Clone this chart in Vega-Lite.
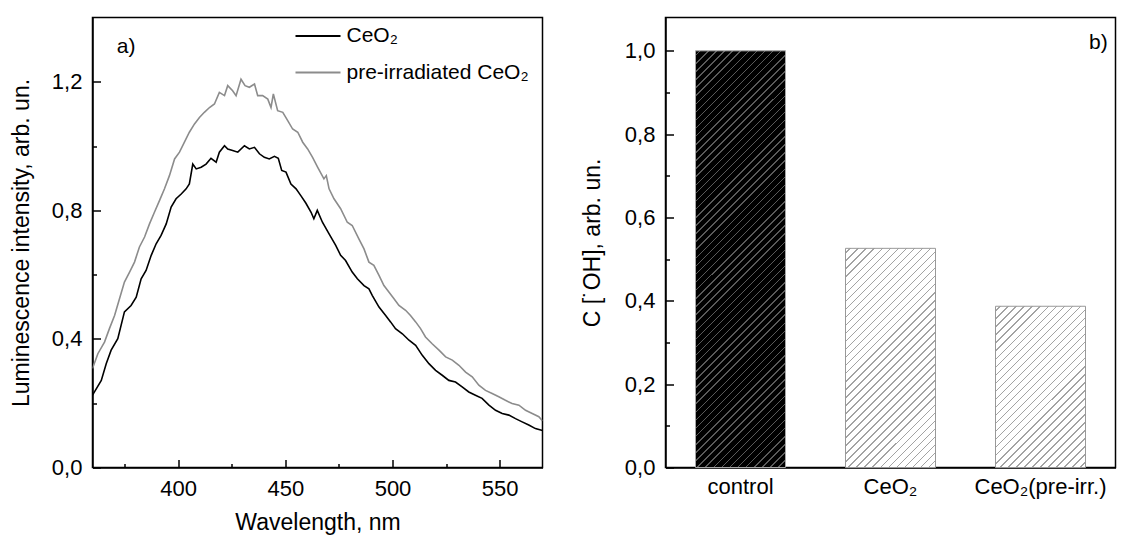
{
"$schema":"https://vega.github.io/schema/vega-lite/v6.json",
"padding":{"left":9.5,"top":16.5,"right":0,"bottom":0},
"spacing":36,
"config":{
"font":"Liberation Sans",
"view":{"stroke":"#000","strokeWidth":1.5},
"axis":{"domainColor":"#000","domainWidth":1.5,"tickColor":"#000","tickWidth":1.5,"labelColor":"#000","titleColor":"#000","labelFont":"Liberation Sans","titleFont":"Liberation Sans","labelFontSize":22,"titleFontSize":23,"titleFontWeight":"normal","grid":false},
"text":{"font":"Liberation Sans","color":"#000"}
},
"hconcat":[
{
"width":450,"height":450,
"layer":[
{
"data":{"values":[
{"s":"CeO₂","w":360.0,"i":0.225},{"s":"CeO₂","w":364.1,"i":0.271},{"s":"CeO₂","w":366.4,"i":0.323},{"s":"CeO₂","w":368.7,"i":0.365},{"s":"CeO₂","w":371.8,"i":0.401},{"s":"CeO₂","w":374.9,"i":0.484},{"s":"CeO₂","w":378.0,"i":0.504},{"s":"CeO₂","w":380.4,"i":0.530},{"s":"CeO₂","w":382.7,"i":0.587},{"s":"CeO₂","w":385.0,"i":0.613},{"s":"CeO₂","w":387.4,"i":0.660},{"s":"CeO₂","w":389.7,"i":0.696},{"s":"CeO₂","w":392.0,"i":0.722},{"s":"CeO₂","w":394.4,"i":0.758},{"s":"CeO₂","w":396.7,"i":0.810},{"s":"CeO₂","w":399.0,"i":0.836},{"s":"CeO₂","w":401.4,"i":0.851},{"s":"CeO₂","w":403.7,"i":0.867},{"s":"CeO₂","w":405.2,"i":0.882},{"s":"CeO₂","w":406.8,"i":0.944},{"s":"CeO₂","w":408.4,"i":0.929},{"s":"CeO₂","w":410.7,"i":0.934},{"s":"CeO₂","w":413.0,"i":0.944},{"s":"CeO₂","w":415.3,"i":0.962},{"s":"CeO₂","w":417.7,"i":0.950},{"s":"CeO₂","w":419.2,"i":0.981},{"s":"CeO₂","w":421.6,"i":1.001},{"s":"CeO₂","w":423.1,"i":0.991},{"s":"CeO₂","w":425.4,"i":0.986},{"s":"CeO₂","w":427.8,"i":0.981},{"s":"CeO₂","w":430.9,"i":1.001},{"s":"CeO₂","w":433.2,"i":0.991},{"s":"CeO₂","w":435.6,"i":0.996},{"s":"CeO₂","w":437.9,"i":0.976},{"s":"CeO₂","w":440.2,"i":0.965},{"s":"CeO₂","w":442.5,"i":0.960},{"s":"CeO₂","w":444.9,"i":0.968},{"s":"CeO₂","w":446.7,"i":0.962},{"s":"CeO₂","w":448.3,"i":0.924},{"s":"CeO₂","w":450.3,"i":0.919},{"s":"CeO₂","w":452.6,"i":0.882},{"s":"CeO₂","w":455.0,"i":0.867},{"s":"CeO₂","w":457.3,"i":0.845},{"s":"CeO₂","w":459.6,"i":0.822},{"s":"CeO₂","w":462.0,"i":0.794},{"s":"CeO₂","w":463.3,"i":0.774},{"s":"CeO₂","w":464.9,"i":0.800},{"s":"CeO₂","w":467.3,"i":0.763},{"s":"CeO₂","w":470.4,"i":0.727},{"s":"CeO₂","w":473.5,"i":0.691},{"s":"CeO₂","w":475.8,"i":0.660},{"s":"CeO₂","w":478.1,"i":0.644},{"s":"CeO₂","w":481.2,"i":0.608},{"s":"CeO₂","w":483.6,"i":0.587},{"s":"CeO₂","w":486.7,"i":0.566},{"s":"CeO₂","w":489.0,"i":0.556},{"s":"CeO₂","w":490.6,"i":0.535},{"s":"CeO₂","w":493.7,"i":0.499},{"s":"CeO₂","w":496.8,"i":0.473},{"s":"CeO₂","w":499.1,"i":0.453},{"s":"CeO₂","w":501.4,"i":0.432},{"s":"CeO₂","w":504.6,"i":0.416},{"s":"CeO₂","w":507.7,"i":0.396},{"s":"CeO₂","w":510.8,"i":0.380},{"s":"CeO₂","w":513.9,"i":0.349},{"s":"CeO₂","w":517.0,"i":0.323},{"s":"CeO₂","w":520.1,"i":0.302},{"s":"CeO₂","w":523.2,"i":0.287},{"s":"CeO₂","w":526.3,"i":0.271},{"s":"CeO₂","w":529.4,"i":0.266},{"s":"CeO₂","w":532.5,"i":0.251},{"s":"CeO₂","w":535.6,"i":0.235},{"s":"CeO₂","w":538.7,"i":0.225},{"s":"CeO₂","w":541.8,"i":0.215},{"s":"CeO₂","w":545.0,"i":0.194},{"s":"CeO₂","w":548.1,"i":0.178},{"s":"CeO₂","w":551.2,"i":0.168},{"s":"CeO₂","w":554.3,"i":0.163},{"s":"CeO₂","w":557.4,"i":0.152},{"s":"CeO₂","w":560.5,"i":0.142},{"s":"CeO₂","w":563.6,"i":0.132},{"s":"CeO₂","w":566.7,"i":0.121},{"s":"CeO₂","w":570.0,"i":0.115},
{"s":"pre-irradiated CeO₂","w":360.0,"i":0.308},{"s":"pre-irradiated CeO₂","w":362.5,"i":0.354},{"s":"pre-irradiated CeO₂","w":365.6,"i":0.390},{"s":"pre-irradiated CeO₂","w":367.9,"i":0.432},{"s":"pre-irradiated CeO₂","w":370.3,"i":0.473},{"s":"pre-irradiated CeO₂","w":372.6,"i":0.525},{"s":"pre-irradiated CeO₂","w":374.9,"i":0.577},{"s":"pre-irradiated CeO₂","w":377.3,"i":0.608},{"s":"pre-irradiated CeO₂","w":379.6,"i":0.639},{"s":"pre-irradiated CeO₂","w":381.9,"i":0.686},{"s":"pre-irradiated CeO₂","w":384.3,"i":0.717},{"s":"pre-irradiated CeO₂","w":386.6,"i":0.758},{"s":"pre-irradiated CeO₂","w":388.9,"i":0.794},{"s":"pre-irradiated CeO₂","w":391.3,"i":0.831},{"s":"pre-irradiated CeO₂","w":393.6,"i":0.867},{"s":"pre-irradiated CeO₂","w":395.9,"i":0.908},{"s":"pre-irradiated CeO₂","w":398.3,"i":0.960},{"s":"pre-irradiated CeO₂","w":400.6,"i":0.981},{"s":"pre-irradiated CeO₂","w":402.9,"i":1.012},{"s":"pre-irradiated CeO₂","w":405.2,"i":1.043},{"s":"pre-irradiated CeO₂","w":407.6,"i":1.069},{"s":"pre-irradiated CeO₂","w":409.9,"i":1.089},{"s":"pre-irradiated CeO₂","w":412.2,"i":1.105},{"s":"pre-irradiated CeO₂","w":414.6,"i":1.120},{"s":"pre-irradiated CeO₂","w":416.9,"i":1.131},{"s":"pre-irradiated CeO₂","w":419.2,"i":1.167},{"s":"pre-irradiated CeO₂","w":421.6,"i":1.157},{"s":"pre-irradiated CeO₂","w":423.1,"i":1.188},{"s":"pre-irradiated CeO₂","w":425.4,"i":1.172},{"s":"pre-irradiated CeO₂","w":427.0,"i":1.157},{"s":"pre-irradiated CeO₂","w":429.3,"i":1.208},{"s":"pre-irradiated CeO₂","w":431.2,"i":1.188},{"s":"pre-irradiated CeO₂","w":433.2,"i":1.183},{"s":"pre-irradiated CeO₂","w":435.6,"i":1.193},{"s":"pre-irradiated CeO₂","w":437.1,"i":1.157},{"s":"pre-irradiated CeO₂","w":439.4,"i":1.157},{"s":"pre-irradiated CeO₂","w":441.8,"i":1.146},{"s":"pre-irradiated CeO₂","w":443.3,"i":1.120},{"s":"pre-irradiated CeO₂","w":444.4,"i":1.162},{"s":"pre-irradiated CeO₂","w":446.4,"i":1.110},{"s":"pre-irradiated CeO₂","w":448.8,"i":1.105},{"s":"pre-irradiated CeO₂","w":451.1,"i":1.079},{"s":"pre-irradiated CeO₂","w":453.4,"i":1.053},{"s":"pre-irradiated CeO₂","w":455.8,"i":1.043},{"s":"pre-irradiated CeO₂","w":458.1,"i":1.012},{"s":"pre-irradiated CeO₂","w":460.4,"i":0.991},{"s":"pre-irradiated CeO₂","w":462.7,"i":0.965},{"s":"pre-irradiated CeO₂","w":465.1,"i":0.934},{"s":"pre-irradiated CeO₂","w":468.0,"i":0.898},{"s":"pre-irradiated CeO₂","w":469.1,"i":0.908},{"s":"pre-irradiated CeO₂","w":470.4,"i":0.867},{"s":"pre-irradiated CeO₂","w":472.7,"i":0.836},{"s":"pre-irradiated CeO₂","w":475.8,"i":0.805},{"s":"pre-irradiated CeO₂","w":478.9,"i":0.763},{"s":"pre-irradiated CeO₂","w":481.2,"i":0.753},{"s":"pre-irradiated CeO₂","w":484.3,"i":0.711},{"s":"pre-irradiated CeO₂","w":486.7,"i":0.680},{"s":"pre-irradiated CeO₂","w":489.0,"i":0.639},{"s":"pre-irradiated CeO₂","w":491.3,"i":0.629},{"s":"pre-irradiated CeO₂","w":493.7,"i":0.598},{"s":"pre-irradiated CeO₂","w":496.0,"i":0.566},{"s":"pre-irradiated CeO₂","w":498.3,"i":0.546},{"s":"pre-irradiated CeO₂","w":500.7,"i":0.525},{"s":"pre-irradiated CeO₂","w":503.0,"i":0.504},{"s":"pre-irradiated CeO₂","w":506.1,"i":0.489},{"s":"pre-irradiated CeO₂","w":508.4,"i":0.473},{"s":"pre-irradiated CeO₂","w":510.8,"i":0.453},{"s":"pre-irradiated CeO₂","w":513.1,"i":0.432},{"s":"pre-irradiated CeO₂","w":515.4,"i":0.406},{"s":"pre-irradiated CeO₂","w":518.5,"i":0.385},{"s":"pre-irradiated CeO₂","w":521.7,"i":0.365},{"s":"pre-irradiated CeO₂","w":524.8,"i":0.344},{"s":"pre-irradiated CeO₂","w":527.9,"i":0.334},{"s":"pre-irradiated CeO₂","w":531.0,"i":0.318},{"s":"pre-irradiated CeO₂","w":534.1,"i":0.297},{"s":"pre-irradiated CeO₂","w":537.2,"i":0.282},{"s":"pre-irradiated CeO₂","w":540.3,"i":0.256},{"s":"pre-irradiated CeO₂","w":543.4,"i":0.240},{"s":"pre-irradiated CeO₂","w":546.5,"i":0.230},{"s":"pre-irradiated CeO₂","w":549.6,"i":0.220},{"s":"pre-irradiated CeO₂","w":552.7,"i":0.209},{"s":"pre-irradiated CeO₂","w":555.8,"i":0.199},{"s":"pre-irradiated CeO₂","w":559.0,"i":0.194},{"s":"pre-irradiated CeO₂","w":562.1,"i":0.178},{"s":"pre-irradiated CeO₂","w":565.2,"i":0.168},{"s":"pre-irradiated CeO₂","w":568.3,"i":0.158},{"s":"pre-irradiated CeO₂","w":570.0,"i":0.145}
]},
"mark":{"type":"line","strokeWidth":1.6,"clip":true},
"encoding":{
"x":{"field":"w","type":"quantitative","scale":{"domain":[360,570],"nice":false,"zero":false},"axis":{"values":[400,450,500,550],"title":"Wavelength, nm","tickSize":-8,"labelPadding":19,"titlePadding":12,"labelFlush":false,"orient":"bottom"}},
"y":{"field":"i","type":"quantitative","scale":{"domain":[0,1.4],"nice":false},"axis":{"values":[0,0.4,0.8,1.2],"labelExpr":"replace(format(datum.value,'.1f'),'.',',')","title":"Luminescence intensity, arb. un.","tickSize":-8,"labelPadding":18.6,"titlePadding":17.5,"orient":"left"}},
"color":{"field":"s","type":"nominal","scale":{"domain":["CeO₂","pre-irradiated CeO₂"],"range":["#000000","#8c8c8c"]},"legend":{"orient":"none","legendX":215,"legendY":8,"title":null,"symbolType":"M-2.5,0L2.5,0","symbolSize":324,"symbolStrokeWidth":2,"labelFontSize":21,"labelFont":"Liberation Sans","labelColor":"#000","labelOffset":18,"labelLimit":0,"rowPadding":14.5,"padding":0}}
}
},
{
"data":{"values":[{"label":"a)"}]},
"mark":{"type":"text","fontSize":21,"align":"left","baseline":"middle"},
"encoding":{
"x":{"datum":371.3,"type":"quantitative","axis":{"values":[375,425,475,525],"tickSize":-4,"labels":false,"domain":false,"title":null,"orient":"bottom"}},
"y":{"datum":1.307,"type":"quantitative","axis":{"values":[0.2,0.6,1.0],"tickSize":-4,"labels":false,"domain":false,"title":null,"orient":"left"}},
"text":{"field":"label"}
}
}
],
"resolve":{"axis":{"x":"independent","y":"independent"}}
},
{
"width":450,"height":450,
"data":{"values":[{"cat":"control","v":1.0},{"cat":"CeO₂","v":0.526},{"cat":"CeO₂(pre-irr.)","v":0.387}]},
"layer":[
{
"transform":[{"filter":"datum.cat==='control'"}],
"mark":{"type":"bar","stroke":"#a6a6a6","strokeWidth":1,"fill":{"gradient":"linear","x1":0,"y1":0,"x2":0.2509,"y2":1.1618,"stops":[
{"offset":0.008,"color":"#000"},{"offset":0.008,"color":"#5a5a5a"},{"offset":0.011,"color":"#5a5a5a"},{"offset":0.011,"color":"#000"},
{"offset":0.024,"color":"#000"},{"offset":0.024,"color":"#5a5a5a"},{"offset":0.027,"color":"#5a5a5a"},{"offset":0.027,"color":"#000"},
{"offset":0.040,"color":"#000"},{"offset":0.040,"color":"#5a5a5a"},{"offset":0.043,"color":"#5a5a5a"},{"offset":0.043,"color":"#000"},
{"offset":0.056,"color":"#000"},{"offset":0.056,"color":"#5a5a5a"},{"offset":0.059,"color":"#5a5a5a"},{"offset":0.059,"color":"#000"},
{"offset":0.072,"color":"#000"},{"offset":0.072,"color":"#5a5a5a"},{"offset":0.075,"color":"#5a5a5a"},{"offset":0.075,"color":"#000"},
{"offset":0.088,"color":"#000"},{"offset":0.088,"color":"#5a5a5a"},{"offset":0.091,"color":"#5a5a5a"},{"offset":0.091,"color":"#000"},
{"offset":0.104,"color":"#000"},{"offset":0.104,"color":"#5a5a5a"},{"offset":0.107,"color":"#5a5a5a"},{"offset":0.107,"color":"#000"},
{"offset":0.120,"color":"#000"},{"offset":0.120,"color":"#5a5a5a"},{"offset":0.123,"color":"#5a5a5a"},{"offset":0.123,"color":"#000"},
{"offset":0.136,"color":"#000"},{"offset":0.136,"color":"#5a5a5a"},{"offset":0.139,"color":"#5a5a5a"},{"offset":0.139,"color":"#000"},
{"offset":0.152,"color":"#000"},{"offset":0.152,"color":"#5a5a5a"},{"offset":0.155,"color":"#5a5a5a"},{"offset":0.155,"color":"#000"},
{"offset":0.168,"color":"#000"},{"offset":0.168,"color":"#5a5a5a"},{"offset":0.171,"color":"#5a5a5a"},{"offset":0.171,"color":"#000"},
{"offset":0.184,"color":"#000"},{"offset":0.184,"color":"#5a5a5a"},{"offset":0.187,"color":"#5a5a5a"},{"offset":0.187,"color":"#000"},
{"offset":0.200,"color":"#000"},{"offset":0.200,"color":"#5a5a5a"},{"offset":0.203,"color":"#5a5a5a"},{"offset":0.203,"color":"#000"},
{"offset":0.216,"color":"#000"},{"offset":0.216,"color":"#5a5a5a"},{"offset":0.219,"color":"#5a5a5a"},{"offset":0.219,"color":"#000"},
{"offset":0.232,"color":"#000"},{"offset":0.232,"color":"#5a5a5a"},{"offset":0.235,"color":"#5a5a5a"},{"offset":0.235,"color":"#000"},
{"offset":0.248,"color":"#000"},{"offset":0.248,"color":"#5a5a5a"},{"offset":0.251,"color":"#5a5a5a"},{"offset":0.251,"color":"#000"},
{"offset":0.264,"color":"#000"},{"offset":0.264,"color":"#5a5a5a"},{"offset":0.267,"color":"#5a5a5a"},{"offset":0.267,"color":"#000"},
{"offset":0.280,"color":"#000"},{"offset":0.280,"color":"#5a5a5a"},{"offset":0.283,"color":"#5a5a5a"},{"offset":0.283,"color":"#000"},
{"offset":0.296,"color":"#000"},{"offset":0.296,"color":"#5a5a5a"},{"offset":0.299,"color":"#5a5a5a"},{"offset":0.299,"color":"#000"},
{"offset":0.312,"color":"#000"},{"offset":0.312,"color":"#5a5a5a"},{"offset":0.315,"color":"#5a5a5a"},{"offset":0.315,"color":"#000"},
{"offset":0.328,"color":"#000"},{"offset":0.328,"color":"#5a5a5a"},{"offset":0.331,"color":"#5a5a5a"},{"offset":0.331,"color":"#000"},
{"offset":0.344,"color":"#000"},{"offset":0.344,"color":"#5a5a5a"},{"offset":0.347,"color":"#5a5a5a"},{"offset":0.347,"color":"#000"},
{"offset":0.360,"color":"#000"},{"offset":0.360,"color":"#5a5a5a"},{"offset":0.363,"color":"#5a5a5a"},{"offset":0.363,"color":"#000"},
{"offset":0.376,"color":"#000"},{"offset":0.376,"color":"#5a5a5a"},{"offset":0.379,"color":"#5a5a5a"},{"offset":0.379,"color":"#000"},
{"offset":0.392,"color":"#000"},{"offset":0.392,"color":"#5a5a5a"},{"offset":0.395,"color":"#5a5a5a"},{"offset":0.395,"color":"#000"},
{"offset":0.408,"color":"#000"},{"offset":0.408,"color":"#5a5a5a"},{"offset":0.411,"color":"#5a5a5a"},{"offset":0.411,"color":"#000"},
{"offset":0.424,"color":"#000"},{"offset":0.424,"color":"#5a5a5a"},{"offset":0.427,"color":"#5a5a5a"},{"offset":0.427,"color":"#000"},
{"offset":0.440,"color":"#000"},{"offset":0.440,"color":"#5a5a5a"},{"offset":0.443,"color":"#5a5a5a"},{"offset":0.443,"color":"#000"},
{"offset":0.456,"color":"#000"},{"offset":0.456,"color":"#5a5a5a"},{"offset":0.459,"color":"#5a5a5a"},{"offset":0.459,"color":"#000"},
{"offset":0.472,"color":"#000"},{"offset":0.472,"color":"#5a5a5a"},{"offset":0.475,"color":"#5a5a5a"},{"offset":0.475,"color":"#000"},
{"offset":0.488,"color":"#000"},{"offset":0.488,"color":"#5a5a5a"},{"offset":0.491,"color":"#5a5a5a"},{"offset":0.491,"color":"#000"},
{"offset":0.504,"color":"#000"},{"offset":0.504,"color":"#5a5a5a"},{"offset":0.507,"color":"#5a5a5a"},{"offset":0.507,"color":"#000"},
{"offset":0.520,"color":"#000"},{"offset":0.520,"color":"#5a5a5a"},{"offset":0.523,"color":"#5a5a5a"},{"offset":0.523,"color":"#000"},
{"offset":0.536,"color":"#000"},{"offset":0.536,"color":"#5a5a5a"},{"offset":0.539,"color":"#5a5a5a"},{"offset":0.539,"color":"#000"},
{"offset":0.552,"color":"#000"},{"offset":0.552,"color":"#5a5a5a"},{"offset":0.555,"color":"#5a5a5a"},{"offset":0.555,"color":"#000"},
{"offset":0.568,"color":"#000"},{"offset":0.568,"color":"#5a5a5a"},{"offset":0.571,"color":"#5a5a5a"},{"offset":0.571,"color":"#000"},
{"offset":0.584,"color":"#000"},{"offset":0.584,"color":"#5a5a5a"},{"offset":0.587,"color":"#5a5a5a"},{"offset":0.587,"color":"#000"},
{"offset":0.600,"color":"#000"},{"offset":0.600,"color":"#5a5a5a"},{"offset":0.603,"color":"#5a5a5a"},{"offset":0.603,"color":"#000"},
{"offset":0.616,"color":"#000"},{"offset":0.616,"color":"#5a5a5a"},{"offset":0.619,"color":"#5a5a5a"},{"offset":0.619,"color":"#000"},
{"offset":0.632,"color":"#000"},{"offset":0.632,"color":"#5a5a5a"},{"offset":0.635,"color":"#5a5a5a"},{"offset":0.635,"color":"#000"},
{"offset":0.648,"color":"#000"},{"offset":0.648,"color":"#5a5a5a"},{"offset":0.651,"color":"#5a5a5a"},{"offset":0.651,"color":"#000"},
{"offset":0.664,"color":"#000"},{"offset":0.664,"color":"#5a5a5a"},{"offset":0.667,"color":"#5a5a5a"},{"offset":0.667,"color":"#000"},
{"offset":0.680,"color":"#000"},{"offset":0.680,"color":"#5a5a5a"},{"offset":0.683,"color":"#5a5a5a"},{"offset":0.683,"color":"#000"},
{"offset":0.696,"color":"#000"},{"offset":0.696,"color":"#5a5a5a"},{"offset":0.699,"color":"#5a5a5a"},{"offset":0.699,"color":"#000"},
{"offset":0.712,"color":"#000"},{"offset":0.712,"color":"#5a5a5a"},{"offset":0.715,"color":"#5a5a5a"},{"offset":0.715,"color":"#000"},
{"offset":0.728,"color":"#000"},{"offset":0.728,"color":"#5a5a5a"},{"offset":0.731,"color":"#5a5a5a"},{"offset":0.731,"color":"#000"},
{"offset":0.744,"color":"#000"},{"offset":0.744,"color":"#5a5a5a"},{"offset":0.747,"color":"#5a5a5a"},{"offset":0.747,"color":"#000"},
{"offset":0.760,"color":"#000"},{"offset":0.760,"color":"#5a5a5a"},{"offset":0.763,"color":"#5a5a5a"},{"offset":0.763,"color":"#000"},
{"offset":0.776,"color":"#000"},{"offset":0.776,"color":"#5a5a5a"},{"offset":0.779,"color":"#5a5a5a"},{"offset":0.779,"color":"#000"},
{"offset":0.792,"color":"#000"},{"offset":0.792,"color":"#5a5a5a"},{"offset":0.795,"color":"#5a5a5a"},{"offset":0.795,"color":"#000"},
{"offset":0.808,"color":"#000"},{"offset":0.808,"color":"#5a5a5a"},{"offset":0.811,"color":"#5a5a5a"},{"offset":0.811,"color":"#000"},
{"offset":0.824,"color":"#000"},{"offset":0.824,"color":"#5a5a5a"},{"offset":0.827,"color":"#5a5a5a"},{"offset":0.827,"color":"#000"},
{"offset":0.840,"color":"#000"},{"offset":0.840,"color":"#5a5a5a"},{"offset":0.843,"color":"#5a5a5a"},{"offset":0.843,"color":"#000"},
{"offset":0.856,"color":"#000"},{"offset":0.856,"color":"#5a5a5a"},{"offset":0.859,"color":"#5a5a5a"},{"offset":0.859,"color":"#000"},
{"offset":0.872,"color":"#000"},{"offset":0.872,"color":"#5a5a5a"},{"offset":0.875,"color":"#5a5a5a"},{"offset":0.875,"color":"#000"},
{"offset":0.888,"color":"#000"},{"offset":0.888,"color":"#5a5a5a"},{"offset":0.891,"color":"#5a5a5a"},{"offset":0.891,"color":"#000"},
{"offset":0.904,"color":"#000"},{"offset":0.904,"color":"#5a5a5a"},{"offset":0.907,"color":"#5a5a5a"},{"offset":0.907,"color":"#000"},
{"offset":0.920,"color":"#000"},{"offset":0.920,"color":"#5a5a5a"},{"offset":0.923,"color":"#5a5a5a"},{"offset":0.923,"color":"#000"},
{"offset":0.936,"color":"#000"},{"offset":0.936,"color":"#5a5a5a"},{"offset":0.939,"color":"#5a5a5a"},{"offset":0.939,"color":"#000"},
{"offset":0.952,"color":"#000"},{"offset":0.952,"color":"#5a5a5a"},{"offset":0.955,"color":"#5a5a5a"},{"offset":0.955,"color":"#000"},
{"offset":0.968,"color":"#000"},{"offset":0.968,"color":"#5a5a5a"},{"offset":0.971,"color":"#5a5a5a"},{"offset":0.971,"color":"#000"},
{"offset":0.984,"color":"#000"},{"offset":0.984,"color":"#5a5a5a"},{"offset":0.987,"color":"#5a5a5a"},{"offset":0.987,"color":"#000"}
]}},
"encoding":{
"x":{"field":"cat","type":"nominal","sort":null,"scale":{"domain":["control","CeO₂","CeO₂(pre-irr.)"],"paddingInner":0.4,"paddingOuter":0.2},"axis":{"title":null,"ticks":false,"tickSize":0,"labelAngle":0,"labelPadding":9,"orient":"bottom"}},
"y":{"field":"v","type":"quantitative","scale":{"domain":[0,1.08],"nice":false},"axis":{"values":[0,0.2,0.4,0.6,0.8,1.0],"labelExpr":"replace(format(datum.value,'.1f'),'.',',')","title":"C [˙OH], arb. un.","tickSize":-8,"labelPadding":18.6,"titlePadding":20.2,"orient":"left"}}
}
},
{
"transform":[{"filter":"datum.cat==='CeO₂'"}],
"mark":{"type":"bar","stroke":"#999999","strokeWidth":1,"fill":{"gradient":"linear","x1":0,"y1":0,"x2":0.4956,"y2":1.2071,"stops":[
{"offset":0.013,"color":"#fff"},{"offset":0.013,"color":"#a3a3a3"},{"offset":0.018,"color":"#a3a3a3"},{"offset":0.018,"color":"#fff"},
{"offset":0.039,"color":"#fff"},{"offset":0.039,"color":"#a3a3a3"},{"offset":0.044,"color":"#a3a3a3"},{"offset":0.044,"color":"#fff"},
{"offset":0.065,"color":"#fff"},{"offset":0.065,"color":"#a3a3a3"},{"offset":0.070,"color":"#a3a3a3"},{"offset":0.070,"color":"#fff"},
{"offset":0.091,"color":"#fff"},{"offset":0.091,"color":"#a3a3a3"},{"offset":0.096,"color":"#a3a3a3"},{"offset":0.096,"color":"#fff"},
{"offset":0.117,"color":"#fff"},{"offset":0.117,"color":"#a3a3a3"},{"offset":0.122,"color":"#a3a3a3"},{"offset":0.122,"color":"#fff"},
{"offset":0.143,"color":"#fff"},{"offset":0.143,"color":"#a3a3a3"},{"offset":0.148,"color":"#a3a3a3"},{"offset":0.148,"color":"#fff"},
{"offset":0.169,"color":"#fff"},{"offset":0.169,"color":"#a3a3a3"},{"offset":0.174,"color":"#a3a3a3"},{"offset":0.174,"color":"#fff"},
{"offset":0.195,"color":"#fff"},{"offset":0.195,"color":"#a3a3a3"},{"offset":0.200,"color":"#a3a3a3"},{"offset":0.200,"color":"#fff"},
{"offset":0.221,"color":"#fff"},{"offset":0.221,"color":"#a3a3a3"},{"offset":0.226,"color":"#a3a3a3"},{"offset":0.226,"color":"#fff"},
{"offset":0.247,"color":"#fff"},{"offset":0.247,"color":"#a3a3a3"},{"offset":0.252,"color":"#a3a3a3"},{"offset":0.252,"color":"#fff"},
{"offset":0.273,"color":"#fff"},{"offset":0.273,"color":"#a3a3a3"},{"offset":0.278,"color":"#a3a3a3"},{"offset":0.278,"color":"#fff"},
{"offset":0.299,"color":"#fff"},{"offset":0.299,"color":"#a3a3a3"},{"offset":0.304,"color":"#a3a3a3"},{"offset":0.304,"color":"#fff"},
{"offset":0.325,"color":"#fff"},{"offset":0.325,"color":"#a3a3a3"},{"offset":0.330,"color":"#a3a3a3"},{"offset":0.330,"color":"#fff"},
{"offset":0.351,"color":"#fff"},{"offset":0.351,"color":"#a3a3a3"},{"offset":0.356,"color":"#a3a3a3"},{"offset":0.356,"color":"#fff"},
{"offset":0.377,"color":"#fff"},{"offset":0.377,"color":"#a3a3a3"},{"offset":0.382,"color":"#a3a3a3"},{"offset":0.382,"color":"#fff"},
{"offset":0.403,"color":"#fff"},{"offset":0.403,"color":"#a3a3a3"},{"offset":0.408,"color":"#a3a3a3"},{"offset":0.408,"color":"#fff"},
{"offset":0.429,"color":"#fff"},{"offset":0.429,"color":"#a3a3a3"},{"offset":0.434,"color":"#a3a3a3"},{"offset":0.434,"color":"#fff"},
{"offset":0.455,"color":"#fff"},{"offset":0.455,"color":"#a3a3a3"},{"offset":0.460,"color":"#a3a3a3"},{"offset":0.460,"color":"#fff"},
{"offset":0.481,"color":"#fff"},{"offset":0.481,"color":"#a3a3a3"},{"offset":0.486,"color":"#a3a3a3"},{"offset":0.486,"color":"#fff"},
{"offset":0.507,"color":"#fff"},{"offset":0.507,"color":"#a3a3a3"},{"offset":0.512,"color":"#a3a3a3"},{"offset":0.512,"color":"#fff"},
{"offset":0.533,"color":"#fff"},{"offset":0.533,"color":"#a3a3a3"},{"offset":0.538,"color":"#a3a3a3"},{"offset":0.538,"color":"#fff"},
{"offset":0.559,"color":"#fff"},{"offset":0.559,"color":"#a3a3a3"},{"offset":0.564,"color":"#a3a3a3"},{"offset":0.564,"color":"#fff"},
{"offset":0.585,"color":"#fff"},{"offset":0.585,"color":"#a3a3a3"},{"offset":0.590,"color":"#a3a3a3"},{"offset":0.590,"color":"#fff"},
{"offset":0.611,"color":"#fff"},{"offset":0.611,"color":"#a3a3a3"},{"offset":0.616,"color":"#a3a3a3"},{"offset":0.616,"color":"#fff"},
{"offset":0.637,"color":"#fff"},{"offset":0.637,"color":"#a3a3a3"},{"offset":0.642,"color":"#a3a3a3"},{"offset":0.642,"color":"#fff"},
{"offset":0.663,"color":"#fff"},{"offset":0.663,"color":"#a3a3a3"},{"offset":0.668,"color":"#a3a3a3"},{"offset":0.668,"color":"#fff"},
{"offset":0.689,"color":"#fff"},{"offset":0.689,"color":"#a3a3a3"},{"offset":0.694,"color":"#a3a3a3"},{"offset":0.694,"color":"#fff"},
{"offset":0.715,"color":"#fff"},{"offset":0.715,"color":"#a3a3a3"},{"offset":0.720,"color":"#a3a3a3"},{"offset":0.720,"color":"#fff"},
{"offset":0.741,"color":"#fff"},{"offset":0.741,"color":"#a3a3a3"},{"offset":0.746,"color":"#a3a3a3"},{"offset":0.746,"color":"#fff"},
{"offset":0.767,"color":"#fff"},{"offset":0.767,"color":"#a3a3a3"},{"offset":0.772,"color":"#a3a3a3"},{"offset":0.772,"color":"#fff"},
{"offset":0.793,"color":"#fff"},{"offset":0.793,"color":"#a3a3a3"},{"offset":0.798,"color":"#a3a3a3"},{"offset":0.798,"color":"#fff"},
{"offset":0.819,"color":"#fff"},{"offset":0.819,"color":"#a3a3a3"},{"offset":0.824,"color":"#a3a3a3"},{"offset":0.824,"color":"#fff"},
{"offset":0.845,"color":"#fff"},{"offset":0.845,"color":"#a3a3a3"},{"offset":0.850,"color":"#a3a3a3"},{"offset":0.850,"color":"#fff"},
{"offset":0.871,"color":"#fff"},{"offset":0.871,"color":"#a3a3a3"},{"offset":0.876,"color":"#a3a3a3"},{"offset":0.876,"color":"#fff"},
{"offset":0.897,"color":"#fff"},{"offset":0.897,"color":"#a3a3a3"},{"offset":0.902,"color":"#a3a3a3"},{"offset":0.902,"color":"#fff"},
{"offset":0.923,"color":"#fff"},{"offset":0.923,"color":"#a3a3a3"},{"offset":0.928,"color":"#a3a3a3"},{"offset":0.928,"color":"#fff"},
{"offset":0.949,"color":"#fff"},{"offset":0.949,"color":"#a3a3a3"},{"offset":0.954,"color":"#a3a3a3"},{"offset":0.954,"color":"#fff"},
{"offset":0.975,"color":"#fff"},{"offset":0.975,"color":"#a3a3a3"},{"offset":0.980,"color":"#a3a3a3"},{"offset":0.980,"color":"#fff"}
]}},
"encoding":{
"x":{"field":"cat","type":"nominal","sort":null,"axis":null},
"y":{"field":"v","type":"quantitative","axis":null}
}
},
{
"transform":[{"filter":"datum.cat==='CeO₂(pre-irr.)'"}],
"mark":{"type":"bar","stroke":"#999999","strokeWidth":1,"fill":{"gradient":"linear","x1":0,"y1":0,"x2":0.6629,"y2":1.1881,"stops":[
{"offset":0.016,"color":"#fff"},{"offset":0.016,"color":"#a3a3a3"},{"offset":0.022,"color":"#a3a3a3"},{"offset":0.022,"color":"#fff"},
{"offset":0.048,"color":"#fff"},{"offset":0.048,"color":"#a3a3a3"},{"offset":0.054,"color":"#a3a3a3"},{"offset":0.054,"color":"#fff"},
{"offset":0.080,"color":"#fff"},{"offset":0.080,"color":"#a3a3a3"},{"offset":0.086,"color":"#a3a3a3"},{"offset":0.086,"color":"#fff"},
{"offset":0.112,"color":"#fff"},{"offset":0.112,"color":"#a3a3a3"},{"offset":0.118,"color":"#a3a3a3"},{"offset":0.118,"color":"#fff"},
{"offset":0.144,"color":"#fff"},{"offset":0.144,"color":"#a3a3a3"},{"offset":0.150,"color":"#a3a3a3"},{"offset":0.150,"color":"#fff"},
{"offset":0.176,"color":"#fff"},{"offset":0.176,"color":"#a3a3a3"},{"offset":0.182,"color":"#a3a3a3"},{"offset":0.182,"color":"#fff"},
{"offset":0.208,"color":"#fff"},{"offset":0.208,"color":"#a3a3a3"},{"offset":0.214,"color":"#a3a3a3"},{"offset":0.214,"color":"#fff"},
{"offset":0.240,"color":"#fff"},{"offset":0.240,"color":"#a3a3a3"},{"offset":0.246,"color":"#a3a3a3"},{"offset":0.246,"color":"#fff"},
{"offset":0.272,"color":"#fff"},{"offset":0.272,"color":"#a3a3a3"},{"offset":0.278,"color":"#a3a3a3"},{"offset":0.278,"color":"#fff"},
{"offset":0.304,"color":"#fff"},{"offset":0.304,"color":"#a3a3a3"},{"offset":0.310,"color":"#a3a3a3"},{"offset":0.310,"color":"#fff"},
{"offset":0.336,"color":"#fff"},{"offset":0.336,"color":"#a3a3a3"},{"offset":0.342,"color":"#a3a3a3"},{"offset":0.342,"color":"#fff"},
{"offset":0.368,"color":"#fff"},{"offset":0.368,"color":"#a3a3a3"},{"offset":0.374,"color":"#a3a3a3"},{"offset":0.374,"color":"#fff"},
{"offset":0.400,"color":"#fff"},{"offset":0.400,"color":"#a3a3a3"},{"offset":0.406,"color":"#a3a3a3"},{"offset":0.406,"color":"#fff"},
{"offset":0.432,"color":"#fff"},{"offset":0.432,"color":"#a3a3a3"},{"offset":0.438,"color":"#a3a3a3"},{"offset":0.438,"color":"#fff"},
{"offset":0.464,"color":"#fff"},{"offset":0.464,"color":"#a3a3a3"},{"offset":0.470,"color":"#a3a3a3"},{"offset":0.470,"color":"#fff"},
{"offset":0.496,"color":"#fff"},{"offset":0.496,"color":"#a3a3a3"},{"offset":0.502,"color":"#a3a3a3"},{"offset":0.502,"color":"#fff"},
{"offset":0.528,"color":"#fff"},{"offset":0.528,"color":"#a3a3a3"},{"offset":0.534,"color":"#a3a3a3"},{"offset":0.534,"color":"#fff"},
{"offset":0.560,"color":"#fff"},{"offset":0.560,"color":"#a3a3a3"},{"offset":0.566,"color":"#a3a3a3"},{"offset":0.566,"color":"#fff"},
{"offset":0.592,"color":"#fff"},{"offset":0.592,"color":"#a3a3a3"},{"offset":0.598,"color":"#a3a3a3"},{"offset":0.598,"color":"#fff"},
{"offset":0.624,"color":"#fff"},{"offset":0.624,"color":"#a3a3a3"},{"offset":0.630,"color":"#a3a3a3"},{"offset":0.630,"color":"#fff"},
{"offset":0.656,"color":"#fff"},{"offset":0.656,"color":"#a3a3a3"},{"offset":0.662,"color":"#a3a3a3"},{"offset":0.662,"color":"#fff"},
{"offset":0.688,"color":"#fff"},{"offset":0.688,"color":"#a3a3a3"},{"offset":0.694,"color":"#a3a3a3"},{"offset":0.694,"color":"#fff"},
{"offset":0.720,"color":"#fff"},{"offset":0.720,"color":"#a3a3a3"},{"offset":0.726,"color":"#a3a3a3"},{"offset":0.726,"color":"#fff"},
{"offset":0.752,"color":"#fff"},{"offset":0.752,"color":"#a3a3a3"},{"offset":0.758,"color":"#a3a3a3"},{"offset":0.758,"color":"#fff"},
{"offset":0.784,"color":"#fff"},{"offset":0.784,"color":"#a3a3a3"},{"offset":0.790,"color":"#a3a3a3"},{"offset":0.790,"color":"#fff"},
{"offset":0.816,"color":"#fff"},{"offset":0.816,"color":"#a3a3a3"},{"offset":0.822,"color":"#a3a3a3"},{"offset":0.822,"color":"#fff"},
{"offset":0.848,"color":"#fff"},{"offset":0.848,"color":"#a3a3a3"},{"offset":0.854,"color":"#a3a3a3"},{"offset":0.854,"color":"#fff"},
{"offset":0.880,"color":"#fff"},{"offset":0.880,"color":"#a3a3a3"},{"offset":0.886,"color":"#a3a3a3"},{"offset":0.886,"color":"#fff"},
{"offset":0.912,"color":"#fff"},{"offset":0.912,"color":"#a3a3a3"},{"offset":0.918,"color":"#a3a3a3"},{"offset":0.918,"color":"#fff"},
{"offset":0.944,"color":"#fff"},{"offset":0.944,"color":"#a3a3a3"},{"offset":0.950,"color":"#a3a3a3"},{"offset":0.950,"color":"#fff"},
{"offset":0.976,"color":"#fff"},{"offset":0.976,"color":"#a3a3a3"},{"offset":0.982,"color":"#a3a3a3"},{"offset":0.982,"color":"#fff"}
]}},
"encoding":{
"x":{"field":"cat","type":"nominal","sort":null,"axis":null},
"y":{"field":"v","type":"quantitative","axis":null}
}
},
{
"data":{"values":[{"label":"b)"}]},
"mark":{"type":"text","fontSize":21,"align":"left","baseline":"middle","dx":3.5},
"encoding":{
"x":{"datum":"CeO₂(pre-irr.)","type":"nominal","bandPosition":1,"axis":null},
"y":{"datum":1.019,"type":"quantitative","axis":{"values":[0.1,0.3,0.5,0.7,0.9],"tickSize":-4,"labels":false,"domain":false,"title":null,"orient":"left"}},
"text":{"field":"label"}
}
}
],
"resolve":{"axis":{"x":"independent","y":"independent"}}
}
]
}
